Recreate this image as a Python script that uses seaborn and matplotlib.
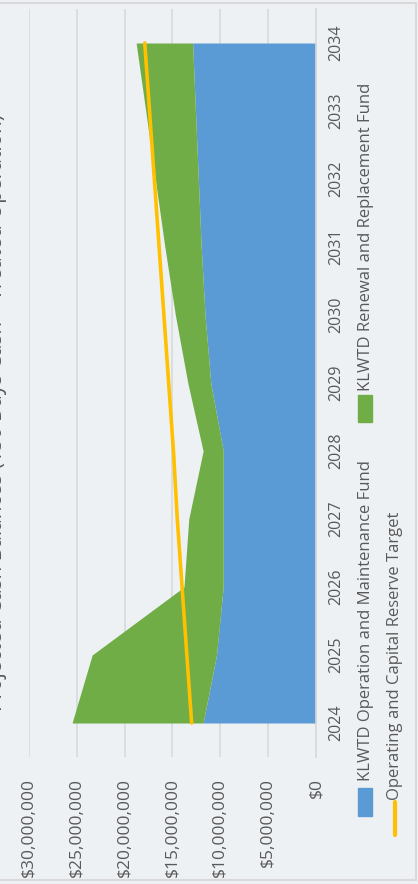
import matplotlib
matplotlib.use("Agg")
import matplotlib.pyplot as plt
import seaborn as sns
import pandas as pd
from matplotlib.patches import Rectangle
from matplotlib.lines import Line2D
from matplotlib.ticker import FuncFormatter

# Data ($ millions)
years = [2024, 2025, 2026, 2027, 2028, 2029, 2030, 2031, 2032, 2033, 2034]
om_fund = [11.8, 10.4, 9.7, 9.7, 9.7, 11.0, 11.6, 12.0, 12.3, 12.6, 12.9]
rr_fund = [13.7, 13.0, 4.1, 3.6, 2.1, 2.4, 3.1, 3.8, 4.5, 5.2, 5.9]
reserve_target = [13.0, 13.5, 14.0, 14.5, 14.9, 15.4, 15.9, 16.4, 16.9, 17.4, 17.9]

series_names = ["KLWTD Operation and Maintenance Fund",
                "KLWTD Renewal and Replacement Fund",
                "Operating and Capital Reserve Target"]
title = "Projected Cash Balances (150 Days Cash \u2013 Treated Operation)"

BG = "#eef1f4"
BLUE = "#5b9bd5"
GREEN = "#70ad47"
YELLOW = "#ffc000"
GRID = "#d9d9d9"
TXT = "#595959"

df = pd.DataFrame({
    "year": years,
    "om": [v * 1e6 for v in om_fund],
    "rr": [v * 1e6 for v in rr_fund],
    "target": [v * 1e6 for v in reserve_target],
})
df["total"] = df["om"] + df["rr"]

sns.set_style("white")
plt.rcParams["font.family"] = ["Open Sans", "DejaVu Sans"]

W, H = 418, 884
fig = plt.figure(figsize=(W / 100, H / 100), dpi=100, facecolor=BG)

# plot area in pixels (chart is drawn rotated: years run up the page)
left, right, top, bottom = 29, 316, 9, 757
ax = fig.add_axes([left / W, 1 - bottom / H, (right - left) / W, (bottom - top) / H])
ax.set_facecolor(BG)

ax.fill_betweenx(df["year"], 0, df["om"], color=BLUE, lw=0, zorder=2)
ax.fill_betweenx(df["year"], df["om"], df["total"], color=GREEN, lw=0, zorder=2)
sns.lineplot(data=df, x="target", y="year", orient="y", color=YELLOW,
             lw=2.6, ax=ax, zorder=3)

ax.set_xlim(30e6, 0)
ax.set_ylim(2023.5, 2034.5)
ax.set_xticks([0, 5e6, 10e6, 15e6, 20e6, 25e6, 30e6])
ax.xaxis.set_major_formatter(FuncFormatter(lambda v, p: "${:,.0f}".format(v)))
ax.set_yticks(years)
ax.yaxis.tick_right()
ax.set_xlabel("")
ax.set_ylabel("")

ax.tick_params(axis="x", length=0, pad=15, labelsize=12.5, colors=TXT, labelrotation=90)
ax.tick_params(axis="y", length=0, pad=9, labelsize=11.5, colors=TXT, labelrotation=90)
for lab in ax.get_yticklabels():
    lab.set_va("center")

ax.set_axisbelow(True)
ax.grid(axis="x", color=GRID, lw=1.2)
ax.grid(axis="y", visible=False)
for s in ["top", "bottom", "left"]:
    ax.spines[s].set_visible(False)
ax.spines["right"].set_color(GRID)
ax.spines["right"].set_linewidth(1.2)

# legend, drawn rotated along the right side
def px(x, y):
    return x / W, 1 - y / H

fig.patches.append(Rectangle(px(358, 816), 14 / W, 28 / H, color=BLUE,
                             transform=fig.transFigure, figure=fig))
fig.patches.append(Rectangle(px(358, 422), 14 / W, 27 / H, color=GREEN,
                             transform=fig.transFigure, figure=fig))
fig.lines.append(Line2D([395 / W, 395 / W], [1 - 835 / H, 1 - 802 / H],
                        color=YELLOW, lw=3, transform=fig.transFigure, figure=fig))
fig.text(*px(366, 781), series_names[0], rotation=90, ha="center", va="bottom",
         fontsize=12, color=TXT)
fig.text(*px(366, 391), series_names[1], rotation=90, ha="center", va="bottom",
         fontsize=12, color=TXT)
fig.text(*px(395, 800), series_names[2], rotation=90, ha="center", va="bottom",
         fontsize=12, color=TXT)

# title sits mostly outside the left edge (cut off in the source image)
fig.text(*px(7.2, 412), title, rotation=90, ha="right", va="center",
         fontsize=15, color=TXT)

# chart border
fig.lines.append(Line2D([0, 416 / W], [1 - 3 / H, 1 - 3 / H], color=GRID, lw=1.5,
                        transform=fig.transFigure, figure=fig))
fig.lines.append(Line2D([0, 416 / W], [1 - 880 / H, 1 - 880 / H], color=GRID, lw=1.5,
                        transform=fig.transFigure, figure=fig))
fig.lines.append(Line2D([416 / W, 416 / W], [1 - 880 / H, 1 - 3 / H], color=GRID, lw=1.5,
                        transform=fig.transFigure, figure=fig))

fig.savefig("out.png", dpi=100, facecolor=BG)
